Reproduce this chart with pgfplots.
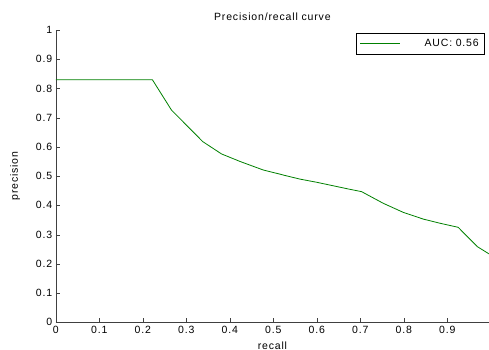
\documentclass[border=0pt]{standalone}
\usepackage{pgfplots}
\pgfplotsset{compat=1.18}
\usepackage{fontspec}
\setmainfont[LetterSpace=8]{Liberation Sans}
\definecolor{mgreen}{rgb}{0,0.5,0}
\begin{document}
\begin{tikzpicture}
\useasboundingbox (-55.8pt,-27.7pt) rectangle (433.2pt,322.3pt);
\begin{axis}[
  at={(0pt,0pt)}, anchor=south west,
  scale only axis, width=433.2pt, height=292.3pt,
  xmin=0, xmax=0.996, ymin=0, ymax=1,
  axis lines*=left, axis line style={-, black!75},
  xtick={0,0.1,...,0.9}, ytick={0,0.1,...,1},
  tick align=inside, major tick length=4pt,
  tick style={black!75},
  font=\fontsize{10.5}{12}\selectfont,
  /pgf/number format/assume math mode=true,
  title={Precision/recall curve},
  title style={at={(0.5,1)}, anchor=south, yshift=0pt},
  xlabel={recall}, ylabel={precision},
  xlabel style={yshift=-1.5pt},
  ylabel style={yshift=9pt},
  legend style={at={(0.991,0.99)}, anchor=north east, draw=black, line width=0.8pt,
    inner xsep=4pt, inner ysep=4pt,
    nodes={inner sep=2pt}},
  legend image code/.code={\draw[#1, mgreen, line width=0.8pt] (0pt,0pt) -- (40pt,0pt);},
  legend cell align=right,
  legend style={nodes={text width=76pt, align=right}},
]
\addplot[color=mgreen, line width=0.8pt] coordinates {
(0,0.83) (0.222,0.83) (0.266,0.726) (0.338,0.618) (0.381,0.576) (0.424,0.550)
(0.477,0.521) (0.515,0.507) (0.525,0.503) (0.561,0.490) (0.600,0.479)
(0.676,0.455) (0.703,0.447) (0.753,0.407) (0.799,0.376) (0.845,0.353)
(0.883,0.339) (0.925,0.325) (0.969,0.259) (0.996,0.234)
};
\addlegendentry{AUC: 0.56}
\end{axis}
\end{tikzpicture}
\end{document}
